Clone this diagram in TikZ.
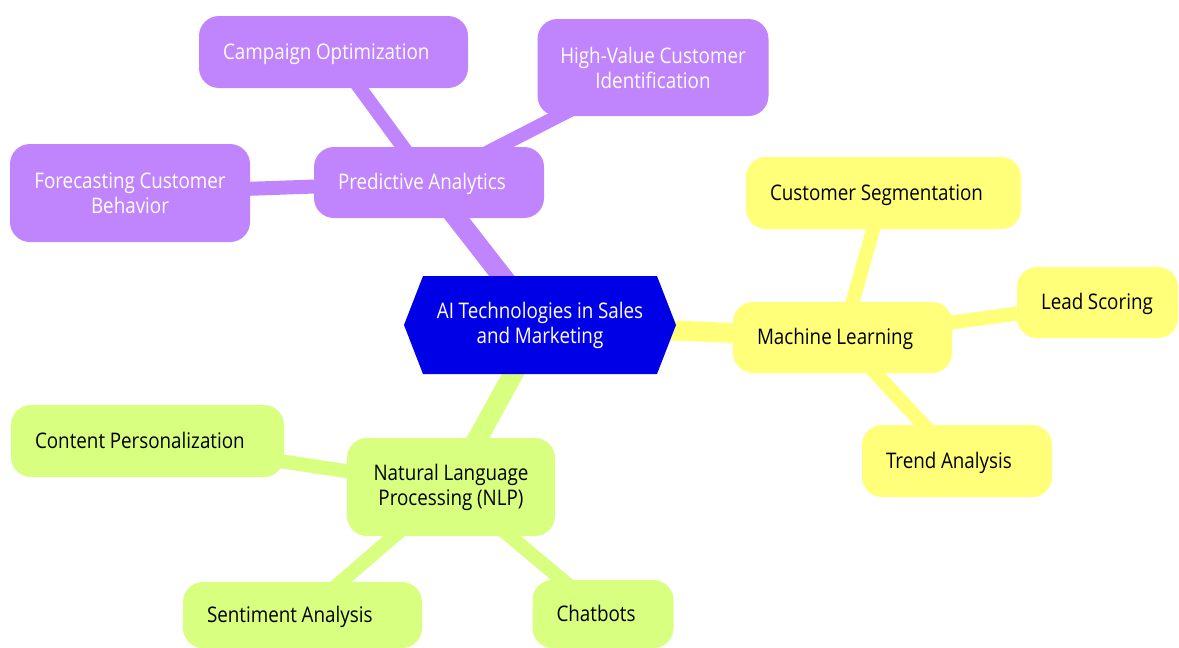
\documentclass[tikz,border=0pt]{standalone}
\usepackage{fontspec}
\setmainfont{Open Sans}[FakeStretch=0.875, WordSpace=0.95]
\usetikzlibrary{backgrounds}
\definecolor{purp}{RGB}{192,132,252}
\definecolor{yel}{RGB}{255,255,122}
\definecolor{grn}{RGB}{217,255,128}
\definecolor{rootblue}{RGB}{0,0,230}
\tikzset{
  box/.style={rectangle, rounded corners=20pt, inner xsep=24pt, inner ysep=0pt,
    font=\fontsize{21.5}{25}\selectfont},
  lbox/.style={box, align=flush left, text height=19pt, text depth=5pt},
  cbox/.style={box, align=flush center},
  pnode/.style={fill=purp, text=white},
  ynode/.style={fill=yel, text=black},
  gnode/.style={fill=grn, text=black},
  mainedge/.style={line width=20pt},
  subedge/.style={line width=14pt},
}
\begin{document}
\begin{tikzpicture}[x=1pt, y=-1pt]
\useasboundingbox (0,0) rectangle (1179,648);

% root
\node[rectangle, minimum width=272pt, minimum height=98pt, inner sep=0pt,
  align=flush center, text=white, font=\fontsize{21.5}{25}\selectfont,
  path picture={\fill[rootblue] (path picture bounding box.west)
     -- ([xshift=19pt]path picture bounding box.north west)
     -- ([xshift=-19pt]path picture bounding box.north east)
     -- (path picture bounding box.east)
     -- ([xshift=-19pt]path picture bounding box.south east)
     -- ([xshift=19pt]path picture bounding box.south west) -- cycle;}]
  (root) at (540,325) {AI Technologies in Sales\\and Marketing};

% Predictive Analytics branch
\node[lbox, pnode, text width=182pt, minimum height=71pt] (pred) at (429,182.5) {Predictive Analytics};
\node[lbox, pnode, text width=221pt, minimum height=72pt] (camp) at (333.5,52) {Campaign Optimization};
\node[cbox, pnode, inner xsep=0pt, minimum width=231pt, minimum height=97pt] (hv) at (653,67.5) {High-Value Customer\\Identification};
\node[cbox, pnode, inner xsep=0pt, minimum width=240pt, minimum height=98pt] (fc) at (130,193) {Forecasting Customer\\Behavior};

% Machine Learning branch
\node[lbox, ynode, text width=171pt, minimum height=71pt] (ml) at (842.5,337.5) {Machine Learning};
\node[lbox, ynode, text width=227pt, minimum height=72pt] (cs) at (883.5,193) {Customer Segmentation};
\node[lbox, ynode, text width=113pt, minimum height=71pt] (ls) at (1097.5,302.5) {Lead Scoring};
\node[lbox, ynode, text width=142pt, minimum height=72pt] (ta) at (957,461) {Trend Analysis};

% NLP branch
\node[cbox, gnode, inner xsep=0pt, minimum width=208pt, minimum height=98pt] (nlp) at (451,487) {Natural Language\\Processing (NLP)};
\node[lbox, gnode, text width=225pt, minimum height=72pt] (cp) at (147.5,441) {Content Personalization};
\node[lbox, gnode, text width=191pt, minimum height=66pt] (sa) at (302.5,615) {Sentiment Analysis};
\node[lbox, gnode, text width=93pt, minimum height=68pt] (cb) at (603,614) {Chatbots};

\begin{scope}[on background layer]
  \draw[mainedge, purp] (root.center) -- (pred.center);
  \draw[mainedge, yel] (root.center) -- (ml.center);
  \draw[mainedge, grn] (root.center) -- (nlp.center);
  \draw[subedge, purp] (pred.center) -- (camp.center);
  \draw[subedge, purp] (pred.center) -- (hv.center);
  \draw[subedge, purp] (pred.center) -- (fc.center);
  \draw[subedge, yel] (ml.center) -- (cs.center);
  \draw[subedge, yel] (ml.center) -- (ls.center);
  \draw[subedge, yel] (ml.center) -- (ta.center);
  \draw[subedge, grn] (nlp.center) -- (cp.center);
  \draw[subedge, grn] (nlp.center) -- (sa.center);
  \draw[subedge, grn] (nlp.center) -- (cb.center);
\end{scope}
\end{tikzpicture}
\end{document}
